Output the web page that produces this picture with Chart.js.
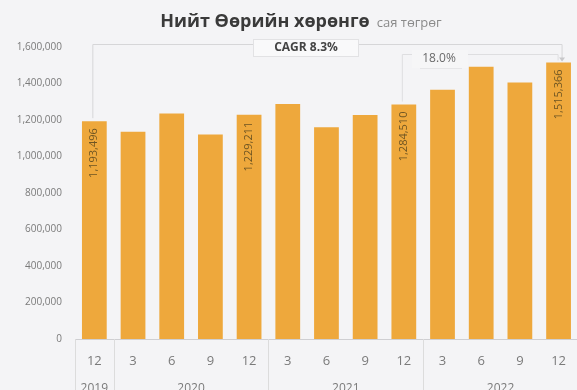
<!DOCTYPE html>
<html>
<head>
<meta charset="utf-8">
<script src="https://cdn.jsdelivr.net/npm/chart.js@4.4.0/dist/chart.umd.min.js"></script>
<style>
    html, body { margin: 0; padding: 0; background: #f4f4f6; overflow: hidden; }
    #wrap { width: 580px; height: 390px; }
</style>
</head>
<body>
<div id="wrap"><canvas id="assetsChart"></canvas></div>
<script>
// quarter labels and year groups
const months = ['12', '3', '6', '9', '12', '3', '6', '9', '12', '3', '6', '9', '12'];
const years = ['2019', '2020', '2021', '2022'];
const yearStart = [0, 1, 5, 9];
const yearEnd = [0, 4, 8, 12];

// total equity, mn MNT
const equity = [1193496, 1135000, 1236000, 1120000, 1229211, 1288000, 1160000, 1228000, 1284510, 1366000, 1492000, 1405000, 1515366];
const labelled = [0, 4, 8, 12];

const yTicks = [0, 200000, 400000, 600000, 800000, 1000000, 1200000, 1400000, 1600000];

const colors = {
    bar: '#eea83c',
    barText: '#6e5523',
    axisText: '#7a7a7a',
    grid: '#dcdcdc',
    title: '#3a3a3a'
};

const fmt = v => v.toLocaleString('en-US');

const extrasPlugin = {
    id: 'extras',
    afterDraw(chart) {
        const ctx = chart.ctx;
        const x = chart.scales.x;
        const y = chart.scales.y;
        const area = chart.chartArea;
        const half = (x.getPixelForValue(1) - x.getPixelForValue(0)) / 2;

        ctx.save();

        // title
        ctx.textBaseline = 'alphabetic';
        ctx.font = 'bold 18px "Open Sans"';
        const t1 = 'Нийт Өөрийн хөрөнгө';
        const w1 = ctx.measureText(t1).width;
        ctx.font = '13px "Open Sans"';
        const t2 = 'сая төгрөг';
        const w2 = ctx.measureText(t2).width;
        const tx = 301 - (w1 + 7 + w2) / 2;
        ctx.font = 'bold 18px "Open Sans"';
        ctx.fillStyle = colors.title;
        ctx.textAlign = 'left';
        ctx.fillText(t1, tx, 27);
        ctx.font = '13px "Open Sans"';
        ctx.fillStyle = '#8a8a8a';
        ctx.fillText(t2, tx + w1 + 7, 27);

        // value labels inside bars
        ctx.font = '11px "Open Sans"';
        ctx.fillStyle = colors.barText;
        ctx.textAlign = 'right';
        ctx.textBaseline = 'middle';
        labelled.forEach(i => {
            const px = x.getPixelForValue(i);
            const py = y.getPixelForValue(equity[i]);
            ctx.save();
            ctx.translate(px, py + 7);
            ctx.rotate(-Math.PI / 2);
            ctx.fillText(fmt(equity[i]), 0, 0);
            ctx.restore();
        });

        // year separators and year labels
        ctx.strokeStyle = colors.grid;
        ctx.lineWidth = 1;
        [0, 1, 5, 9].forEach(i => {
            const sx = Math.round(x.getPixelForValue(i) - half) + 0.5;
            ctx.beginPath();
            ctx.moveTo(sx, area.bottom);
            ctx.lineTo(sx, chart.height);
            ctx.stroke();
        });
        ctx.font = '12px "Open Sans"';
        ctx.fillStyle = colors.axisText;
        ctx.textAlign = 'center';
        ctx.textBaseline = 'middle';
        years.forEach((yr, k) => {
            const cx = (x.getPixelForValue(yearStart[k]) + x.getPixelForValue(yearEnd[k])) / 2;
            ctx.fillText(yr, cx, 389);
        });

        // CAGR bracket
        const last = equity.length - 1;
        const x0 = x.getPixelForValue(0);
        const xl = x.getPixelForValue(last) + 3;
        ctx.strokeStyle = '#d6d6d8';
        ctx.beginPath();
        ctx.moveTo(x0 - 1.5, y.getPixelForValue(equity[0]) - 3);
        ctx.lineTo(x0 - 1.5, 44.5);
        ctx.lineTo(xl + 0.5, 44.5);
        ctx.lineTo(xl + 0.5, y.getPixelForValue(equity[last]) - 2);
        ctx.stroke();
        ctx.fillStyle = '#c8c8ca';
        ctx.beginPath();
        ctx.moveTo(xl - 2.5, y.getPixelForValue(equity[last]) - 5);
        ctx.lineTo(xl + 3.5, y.getPixelForValue(equity[last]) - 5);
        ctx.lineTo(xl + 0.5, y.getPixelForValue(equity[last]) - 1);
        ctx.fill();

        ctx.fillStyle = '#f9f9fa';
        ctx.fillRect(253, 39, 105, 17);
        ctx.strokeStyle = '#e2e2e4';
        ctx.strokeRect(253.5, 39.5, 105, 17);
        ctx.font = 'bold 12px "Open Sans"';
        ctx.fillStyle = '#444';
        ctx.fillText('CAGR 8.3%', 306, 48);

        // 2021-2022 growth bracket
        const x8 = x.getPixelForValue(8);
        ctx.strokeStyle = '#dedee0';
        ctx.beginPath();
        ctx.moveTo(x8 - 1.5, y.getPixelForValue(equity[8]) - 3);
        ctx.lineTo(x8 - 1.5, 54.5);
        ctx.lineTo(xl - 3.5, 54.5);
        ctx.lineTo(xl - 3.5, y.getPixelForValue(equity[last]) - 2);
        ctx.stroke();
        ctx.fillStyle = '#f6f6f7';
        ctx.fillRect(412, 50, 56, 18);
        ctx.strokeStyle = '#e6e6e8';
        ctx.beginPath();
        ctx.moveTo(420, 68.5);
        ctx.lineTo(462, 68.5);
        ctx.stroke();
        ctx.font = '12px "Open Sans"';
        ctx.fillStyle = '#6a6a6a';
        ctx.fillText('18.0%', 439, 59);

        ctx.restore();
    }
};

new Chart(document.getElementById('assetsChart').getContext('2d'), {
    type: 'bar',
    data: {
        labels: months,
        datasets: [{
            data: equity,
            backgroundColor: colors.bar,
            borderWidth: 0,
            barPercentage: 0.64,
            categoryPercentage: 1
        }]
    },
    options: {
        responsive: true,
        maintainAspectRatio: false,
        animation: false,
        layout: { padding: { top: 47, right: 0, left: 0, bottom: 0 } },
        plugins: {
            legend: { display: false },
            title: { display: false },
            tooltip: { enabled: false }
        },
        scales: {
            x: {
                grid: { display: false, drawTicks: false },
                border: { color: '#cfcfd2' },
                ticks: {
                    color: colors.axisText,
                    font: { family: 'Open Sans', size: 13 },
                    padding: 14,
                    maxRotation: 0
                },
                afterFit(scale) { scale.height = 51; }
            },
            y: {
                min: 0,
                max: 1600000,
                afterBuildTicks(scale) { scale.ticks = yTicks.map(v => ({ value: v })); },
                grid: { display: false, drawTicks: false },
                border: { display: false },
                ticks: {
                    color: colors.axisText,
                    font: { family: 'Open Sans', size: 10 },
                    padding: 13,
                    callback: v => fmt(v)
                },
                afterFit(scale) { scale.width = 75; }
            }
        }
    },
    plugins: [extrasPlugin]
});
</script>
</body>
</html>
